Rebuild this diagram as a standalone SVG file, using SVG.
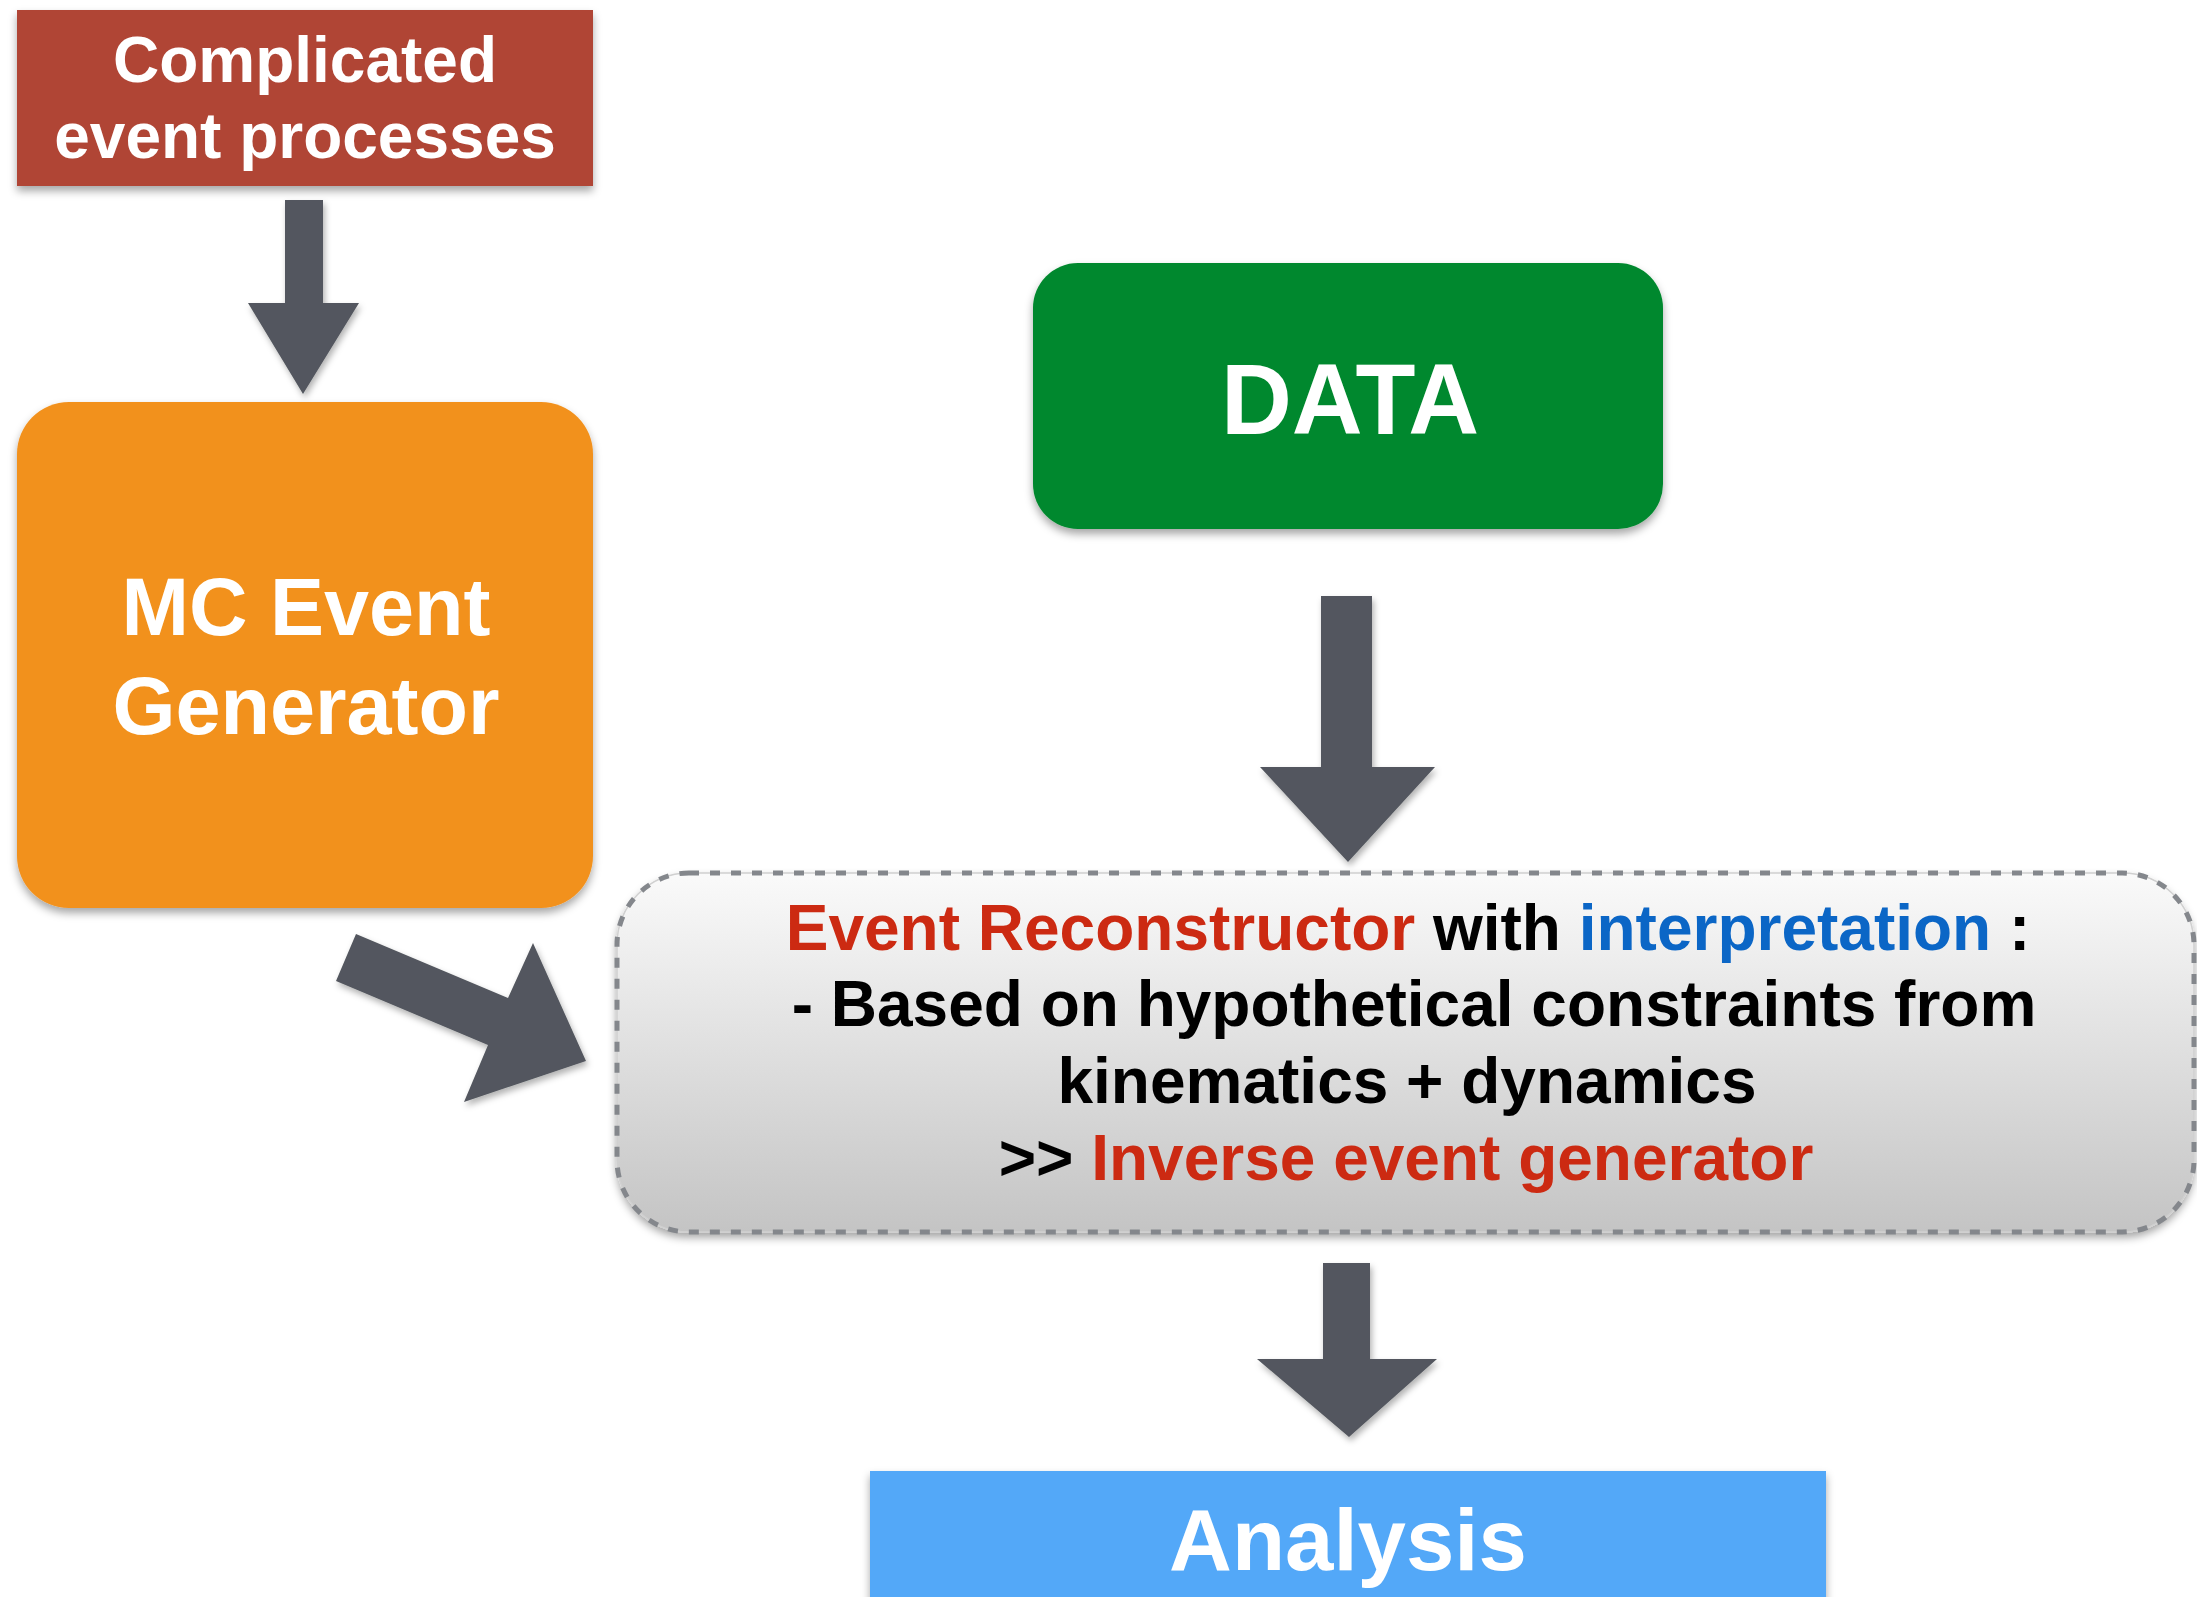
<svg xmlns="http://www.w3.org/2000/svg" width="2197" height="1597" viewBox="0 0 2197 1597">
  <defs>
    <filter id="shadow" x="-10%" y="-10%" width="120%" height="130%">
      <feDropShadow dx="0" dy="5" stdDeviation="4" flood-color="#000" flood-opacity="0.35"/>
    </filter>
    <filter id="ashadow" x="-20%" y="-20%" width="140%" height="140%">
      <feDropShadow dx="2" dy="4" stdDeviation="3" flood-color="#000" flood-opacity="0.3"/>
    </filter>
    <linearGradient id="recoGrad" x1="0" y1="0" x2="0" y2="1">
      <stop offset="0" stop-color="#fafafa"/>
      <stop offset="1" stop-color="#c4c4c4"/>
    </linearGradient>
    <style>
      .lbl { font-family: "Liberation Sans", Arial, Helvetica, sans-serif; font-weight: bold; text-anchor: middle; }
      .white { fill: #ffffff; }
      .arrow { fill: #53575e; filter: url(#ashadow); }
      .red { fill: #cc2a12; }
      .blue { fill: #0b66c6; }
      .black { fill: #000000; }
    </style>
  </defs>

  <rect width="2197" height="1597" fill="#ffffff"/>

  <g id="connectors">
    <polygon class="arrow" points="285,200 323,200 323,303 359,303 303,394 248,303 285,303"/>
    <polygon class="arrow" points="1321,596 1372,596 1372,767 1435,767 1348,862 1260,767 1321,767"/>
    <polygon class="arrow" points="356,934 508,998 533,943 586,1061 464,1102 488,1045 336,981"/>
    <polygon class="arrow" points="1323,1263 1370,1263 1370,1359 1437,1359 1349,1437 1257,1359 1323,1359"/>
  </g>

  <g id="node-complicated">
    <rect x="17" y="10" width="576" height="176" fill="#b04535" filter="url(#shadow)"/>
    <text class="lbl white" x="305" y="82" font-size="64">Complicated</text>
    <text class="lbl white" x="305" y="158" font-size="64">event processes</text>
  </g>

  <g id="node-mc">
    <rect x="17" y="402" width="576" height="506" rx="52" ry="52" fill="#f2911d" filter="url(#shadow)"/>
    <text class="lbl white" x="306" y="635" font-size="81">MC Event</text>
    <text class="lbl white" x="306" y="734" font-size="81">Generator</text>
  </g>

  <g id="node-data">
    <rect x="1033" y="263" width="630" height="266" rx="45" ry="45" fill="#01882e" filter="url(#shadow)"/>
    <text class="lbl white" x="1350" y="434" font-size="100" textLength="258" lengthAdjust="spacingAndGlyphs">DATA</text>
  </g>

  <g id="node-reconstructor">
    <rect x="617" y="873" width="1577" height="359" rx="72" ry="72" fill="url(#recoGrad)" stroke="#d0d0d0" stroke-width="1.5" filter="url(#shadow)"/>
    <rect x="617" y="873" width="1577" height="359" rx="72" ry="72" fill="none" stroke="#84878c" stroke-width="5" stroke-dasharray="10 11"/>
    <text class="lbl" x="1408" y="950" font-size="64"><tspan class="red">Event Reconstructor</tspan><tspan class="black"> with </tspan><tspan class="blue">interpretation</tspan><tspan class="black"> :</tspan></text>
    <text class="lbl black" x="1414" y="1026" font-size="64">- Based on hypothetical constraints from</text>
    <text class="lbl black" x="1407" y="1103" font-size="64">kinematics + dynamics</text>
    <text class="lbl" x="1406" y="1180" font-size="64"><tspan class="black">&gt;&gt; </tspan><tspan class="red">Inverse event generator</tspan></text>
  </g>

  <g id="node-analysis">
    <rect x="870" y="1471" width="956" height="140" fill="#52a8f8" filter="url(#shadow)"/>
    <text class="lbl white" x="1348" y="1570" font-size="87">Analysis</text>
  </g>
</svg>
